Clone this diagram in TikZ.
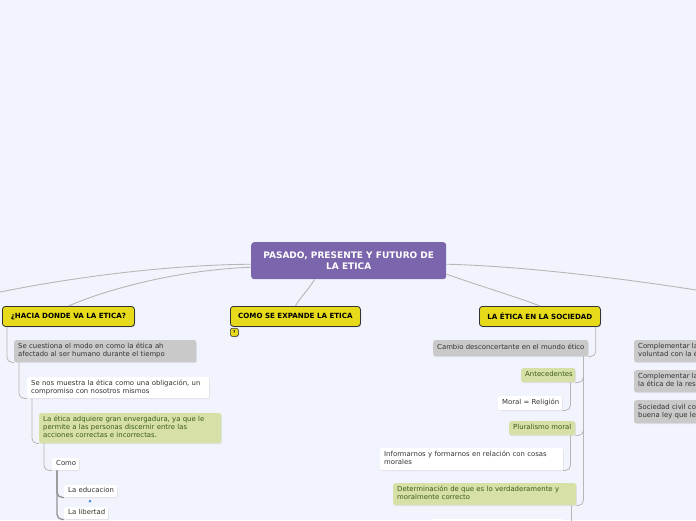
\documentclass[tikz,border=0pt]{standalone}
\usepackage{fontspec}
\setmainfont{DejaVu Sans}
\usetikzlibrary{calc,shadows}
\definecolor{bg}{HTML}{F2F4FD}
\definecolor{hubc}{HTML}{7B65AC}
\definecolor{yel}{HTML}{E7DA1B}
\definecolor{ybd}{HTML}{333333}
\definecolor{gry}{HTML}{C9C9C9}
\definecolor{grn}{HTML}{D6E0A7}
\definecolor{gtx}{HTML}{3D5C1C}
\definecolor{txt}{HTML}{333333}
\definecolor{lnc}{HTML}{B6B6B6}
\definecolor{mkc}{HTML}{4A8FE0}
\newcommand\mylns[1]{\begin{tabular}{@{}l@{}}#1\end{tabular}}
\tikzset{
  hub/.style={anchor=north west, minimum width=195pt, minimum height=37pt, fill=hubc, rounded corners=3pt, text=white, font=\bfseries\fontsize{9}{11}\selectfont, align=center, inner sep=0pt},
  topic/.style={anchor=north west, minimum height=20pt, fill=yel, draw=ybd, line width=0.8pt, rounded corners=3pt, font=\bfseries\fontsize{7.1}{8}\selectfont, inner sep=0pt, text=black, general shadow={fill=black, opacity=0.25, shadow xshift=0.8pt, shadow yshift=-0.8pt}},
  box/.style={anchor=north west, inner xsep=4pt, inner ysep=0pt, rounded corners=2pt, font=\fontsize{6.9}{8}\selectfont, align=left, text=txt, general shadow={fill=black, opacity=0.08, shadow xshift=0.6pt, shadow yshift=-0.8pt}},
  link/.style={draw=lnc, line width=0.9pt},
  tree/.style={draw=lnc, line width=0.8pt, rounded corners=5pt},
  tree2/.style={draw=lnc!80!black, line width=1.3pt, rounded corners=5pt},
}
\begin{document}
\begin{tikzpicture}[x=1pt,y=-1pt]
\useasboundingbox (0,0) rectangle (696,520);
\fill[bg] (0,0) rectangle (696,520);
\begin{scope}
\clip (0,0) rectangle (696,520);
% central and main topics
\node[hub] (c) at (251,242) {PASADO, PRESENTE Y FUTURO DE\\LA ETICA};
\node[topic, minimum width=132pt] (h) at (2,306) {¿HACIA DONDE VA LA ETICA?};
\node[topic, minimum width=130pt] (x) at (230,306) {COMO SE EXPANDE LA ETICA};
\node[topic, minimum width=121pt] (s) at (479,306) {LA ÉTICA EN LA SOCIEDAD};
\node[topic, minimum width=8pt, minimum height=8pt, rounded corners=1.5pt, line width=0.5pt, font=\bfseries\fontsize{4}{4}\selectfont] (q) at (230,328) {?};
\coordinate (offL) at (0,292);
\coordinate (offR) at (696,290);
% left branch
\node[box, fill=gry, text width=174pt, minimum height=22pt] (g1) at (14,340) {\mylns{Se cuestiona el modo en como la ética ah\\afectado al ser humano durante el tiempo}};
\node[box, fill=white, text width=174pt, minimum height=21pt] (w1) at (27,377) {\mylns{Se nos muestra la ética como una obligación, un\\compromiso con nosotros mismos}};
\node[box, fill=grn, text=gtx, text width=174pt, minimum height=30pt] (r1) at (39,413) {\mylns{La ética adquiere gran envergadura, ya que le\\permite a las personas discernir entre las\\acciones correctas e incorrectas.}};
\node[box, fill=white, text width=19pt, minimum height=12pt] (cm) at (52,458) {\mylns{Como}};
\node[box, fill=white, text width=45pt, minimum height=12pt] (ed) at (64,485) {\mylns{La educacion}};
\node[box, fill=white, text width=36pt, minimum height=12pt] (li) at (64,507) {\mylns{La libertad}};
\node[circle, fill=mkc, inner sep=0pt, minimum size=3pt] (mk) at (90,501) {};
% right branch
\node[box, fill=gry, text width=147pt, minimum height=16pt] (cb) at (433,340) {\mylns{Cambio desconcertante en el mundo ético}};
\node[box, fill=grn, text=gtx, text width=46pt, minimum height=14pt] (an) at (521,368) {\mylns{Antecedentes}};
\node[box, fill=white, text width=56pt, minimum height=14pt] (mo) at (498,396) {\mylns{Moral = Religión}};
\node[box, fill=grn, text=gtx, text width=58pt, minimum height=14pt] (pl) at (509,421) {\mylns{Pluralismo moral}};
\node[box, fill=white, text width=175pt, minimum height=22pt] (in) at (380,448) {\mylns{Informarnos y formarnos en relación con cosas\\morales}};
\node[box, fill=grn, text=gtx, text width=175pt, minimum height=22pt] (de) at (393,483) {\mylns{Determinación de que es lo verdaderamente y\\moralmente correcto}};
\node[box, fill=white, text width=125pt, minimum height=14pt] (bt) at (430,519) {};
% far right (cut off at the edge, as in the reference)
\node[box, fill=gry, text width=110pt, minimum height=22pt] (f1) at (634,340) {\mylns{Complementar la\\voluntad con la ética}};
\node[box, fill=gry, text width=110pt, minimum height=22pt] (f2) at (634,370) {\mylns{Complementar la\\la ética de la responsabilidad}};
\node[box, fill=gry, text width=110pt, minimum height=23pt] (f3) at (634,400) {\mylns{Sociedad civil con\\buena ley que les}};
% main links
\draw[link] ([yshift=-3.5pt]c.west) .. controls (170,265) and (80,276) .. (offL);
\draw[link] ([yshift=-6.5pt]c.west) .. controls (180,270) and (110,288) .. (h.north);
\draw[link] ([xshift=-34pt]c.south) .. controls (308,290) and (300,298) .. (x.north);
\draw[link] ([yshift=-3.5pt]c.east) .. controls (520,266) and (620,278) .. (offR);
\draw[link] ([yshift=-13.5pt]c.east) .. controls (480,286) and (520,298) .. (s.north);
% tree lines left
\draw[tree] ([xshift=5pt]h.south west) |- (g1.south west);
\draw[tree] ([xshift=5pt]g1.south west) |- (w1.south west);
\draw[tree] ([xshift=5pt]w1.south west) |- (r1.south west);
\draw[tree] ([xshift=5pt]r1.south west) |- (cm.south west);
\draw[tree2] ([xshift=5pt]cm.south west) |- (ed.south west);
\draw[tree2] ([xshift=5pt]cm.south west) |- (li.south west);
% tree lines right
\draw[tree] ([xshift=-5pt]s.south east) |- (cb.south east);
\draw[tree] ([xshift=-5pt]cb.south east) |- (an.south east);
\draw[tree] ([xshift=-5pt]cb.south east) |- (pl.south east);
\draw[tree] ([xshift=-5pt]cb.south east) |- (de.south east);
\draw[tree] ([xshift=-5pt]an.south east) |- (mo.south east);
\draw[tree] ([xshift=-5pt]pl.south east) |- (in.south east);
\draw[tree] ([xshift=-5pt]de.south east) |- (bt.south east);
\end{scope}
\end{tikzpicture}
\end{document}
